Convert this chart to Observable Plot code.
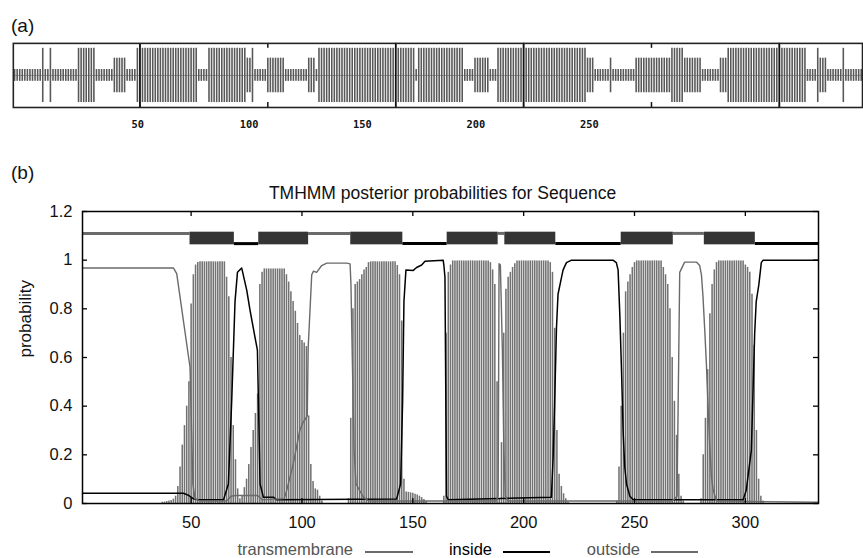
<!DOCTYPE html>
<html><head><meta charset="utf-8">
<script src="https://cdn.jsdelivr.net/npm/d3@7"></script>
<script src="https://cdn.jsdelivr.net/npm/@observablehq/plot@0.6"></script>
<style>
html,body{margin:0;padding:0;background:#fff;}
body{width:863px;height:558px;overflow:hidden;position:relative;font-family:"Liberation Sans",Arial,Helvetica,sans-serif;}
.lbl{position:absolute;font-size:19px;color:#111;line-height:22px;}
#pa{position:absolute;left:0;top:35px;}
#pb{position:absolute;left:0;top:175px;}
.legt{position:absolute;top:543px;font-size:16.5px;line-height:13px;white-space:nowrap;text-align:right;}
.legl{position:absolute;top:551px;height:1.5px;}
</style></head><body>
<div class="lbl" style="left:11px;top:15px">(a)</div>
<div id="pa"></div>
<div class="lbl" style="left:11px;top:162px">(b)</div>
<div id="pb"></div>
<div id="legend"></div>
<script>
// ---------- Panel (a): per-residue bar levels as runs [start, end, level] ----------
const aRuns = [
  [1,11,1],[12,12,3],[13,14,1],[15,15,3],[16,25,1],[26,32,3],[33,39,1],[40,44,2],[45,48,1],
  [49,72,3],[73,76,1],[77,91,3],[92,93,2],[94,94,3],[95,99,1],[100,106,2],[107,115,1],
  [116,118,2],[119,119,1],[120,157,3],[158,158,1],[159,176,3],[177,180,1],[181,186,2],
  [187,189,1],[190,224,3],[225,227,2],[228,233,1],[234,234,2],[235,243,1],[244,257,2],
  [258,262,3],[263,269,2],[270,276,1],[277,279,2],[280,310,3],[311,314,1],[315,315,3],
  [316,318,2],[319,324,1],[325,325,3],[326,332,1]
];
const aTicks = [50,100,150,200,250,300];
const aFullTicks = [50,150,200,300];
const aLabels = ["50","100","150","200","250"];
const aLabelPos = [49.1,92.7,137,181.3,225.7];

// ---------- Panel (b): TMHMM posterior probabilities ----------
const title = "TMHMM posterior probabilities for Sequence";
const xTicks = [50,100,150,200,250,300];
const yTicks = [0,0.2,0.4,0.6,0.8,1,1.2];
const yLabels = ["0","0.2","0.4","0.6","0.8","1","1.2"];

// transmembrane probability, residues 1..332
const tmProb = [
0,0,0,0,0,0,0,0,0,0,0,0,0,0,0,0,0,0,0,0,
0,0,0,0,0,0,0,0,0,0,0,0,0,0,0,0,0.005,0.006,0.008,0.01,
0.012,0.018,0.03,0.07,0.15,0.24,0.32,0.4,0.5,0.82,0.94,0.98,0.99,0.993,0.993,0.993,0.993,0.993,0.993,0.993,
0.993,0.993,0.993,0.993,0.993,0.93,0.85,0.6,0.32,0.18,0.06,0.02,0.03,0.065,0.1,0.16,0.23,0.3,0.37,0.45,
0.9,0.95,0.964,0.964,0.964,0.964,0.964,0.964,0.964,0.964,0.964,0.964,0.94,0.91,0.87,0.83,0.79,0.74,0.69,0.67,
0.66,0.645,0.36,0.16,0.09,0.06,0.055,0.03,0.01,0,0,0,0,0,0,0,0,0,0,0,
0.02,0.35,0.8,0.9,0.91,0.92,0.94,0.96,0.97,0.99,0.993,0.993,0.993,0.993,0.993,0.993,0.993,0.993,0.993,0.993,
0.993,0.993,0.978,0.94,0.75,0.1,0.047,0.046,0.044,0.042,0.038,0.035,0.03,0.024,0.016,0.008,0,0,0,0,
0,0,0,0.03,0.7,0.95,0.98,0.997,0.997,0.997,0.997,0.997,0.997,0.997,0.997,0.997,0.997,0.997,0.997,0.997,
0.997,0.997,0.997,0.997,0.99,0.96,0.9,0.5,0.02,0.25,0.7,0.88,0.93,0.95,0.97,0.985,0.997,0.997,0.997,0.997,
0.997,0.997,0.997,0.997,0.997,0.997,0.997,0.997,0.997,0.997,0.997,0.99,0.95,0.72,0.3,0.12,0.07,0.04,0.02,0.005,
0,0,0,0,0,0,0,0,0,0,0,0,0,0,0,0,0,0,0,0,
0,0.01,0.15,0.4,0.7,0.87,0.91,0.94,0.97,0.99,0.997,0.997,0.997,0.997,0.997,0.997,0.997,0.997,0.997,0.997,
0.997,0.997,0.97,0.94,0.9,0.8,0.6,0.42,0.28,0.12,0.03,0.01,0,0,0,0,0,0,0,0.02,
0.2,0.35,0.55,0.78,0.9,0.96,0.99,0.997,0.997,0.997,0.997,0.997,0.997,0.997,0.997,0.997,0.997,0.997,0.997,0.98,
0.97,0.95,0.86,0.65,0.3,0.1,0.03,0.01,0,0,0,0,0,0,0,0,0,0,0,0,
0,0,0,0,0,0,0,0,0,0,0,0
];

// inside probability (read at key residues)
const insideR = [1,46.5,48.5,51.1,53,64.6,66.8,68.3,69.8,70.9,72.8,75.1,76.6,78.8,79.9,81.1,82.6,87.1,88.6,142.7,
  144.5,145.4,146,146.9,150.2,151.7,154,155.5,163.7,164,164.5,165.2,166,212.5,213.3,214,214.8,215.5,217.1,217.8,
  219.3,221.6,240.3,241.8,242.6,243.4,244.1,244.9,245.6,246.4,247.9,249.4,299,300.4,302.7,304.2,304.9,306.1,307.2,308,333];
const insideP = [0.042,0.042,0.035,0.019,0.015,0.015,0.08,0.42,0.83,0.95,0.968,0.876,0.793,0.684,0.63,0.08,0.026,0.026,0.015,0.019,
  0.08,0.42,0.83,0.96,0.958,0.97,0.98,0.996,1.0,0.98,0.93,0.03,0.015,0.026,0.19,0.42,0.72,0.86,0.93,0.96,
  0.99,1.0,1.0,0.99,0.96,0.77,0.56,0.29,0.15,0.08,0.03,0.015,0.015,0.054,0.218,0.697,0.83,0.9,0.99,1.0,1.0];

// outside probability (read at key residues)
const outsideR = [1,42,43.5,49.5,50.8,51.8,54,66,68,70,80,82,92,93,96,99,100.3,102.4,102.8,104.4,
  105.2,106.6,108.9,111.2,120.2,121.7,122.1,122.7,123.5,124.4,127.7,130,187.5,188.5,188.9,189.5,190.4,191.1,191.7,193,
  267,269.2,270.4,272.6,277.9,279.4,280.2,280.9,281.7,282.4,283.2,283.9,284.7,285.5,287,333];
const outsideP = [0.968,0.968,0.945,0.56,0.08,0.02,0.01,0.01,0.03,0.033,0.033,0.015,0.02,0.05,0.16,0.3,0.33,0.36,0.64,0.94,
  0.955,0.95,0.978,0.988,0.988,0.985,0.9,0.6,0.22,0.08,0.026,0.01,0.01,0.03,0.985,0.98,0.63,0.22,0.03,0.01,
  0.01,0.03,0.95,0.992,0.992,0.978,0.94,0.85,0.71,0.58,0.4,0.245,0.11,0.055,0.01,0.005];

// predicted topology segments
const topoStart = [1,49.5,69.5,80.5,103,122,145.5,165.5,188.5,191.5,214.5,244,267.5,281.5,304.5];
const topoEnd   = [49.5,69.5,80.5,103,122,145.5,165.5,188.5,191.5,214.5,244,267.5,281.5,304.5,333];
const topoType  = ["outside","TMhelix","inside","TMhelix","outside","TMhelix","inside","TMhelix",
                   "outside","TMhelix","inside","TMhelix","outside","TMhelix","inside"];

const legendLabels = ["transmembrane","inside","outside"];

// ---------- build panel (a) ----------
const aHalf = [0, 0.185, 0.54, 0.846];
const aBars = aRuns.flatMap(([s,e,l]) => d3.range(s, e + 1).map(r => ({r, level: l})));

const plotA = Plot.plot({
  width: 875, height: 100,
  marginLeft: 13, marginRight: 1, marginTop: 8, marginBottom: 27,
  x: {domain: [0.5, 332.5], axis: null, label: null},
  y: {domain: [-1, 1], axis: null, label: null},
  style: {background: "transparent", overflow: "visible"},
  marks: [
    Plot.ruleY([0], {stroke: "#8a8a8a", strokeWidth: 0.8}),
    Plot.ruleX(aBars, {x: "r", y1: d => -aHalf[d.level], y2: d => aHalf[d.level], stroke: "#585858", strokeWidth: 1.6}),
    Plot.ruleX(aFullTicks, {x: d => d, stroke: "#111", strokeWidth: 1.6}),
    Plot.ruleX(aTicks, {x: d => d, insetBottom: 60, stroke: "#111", strokeWidth: 1.5}),
    Plot.ruleX(aTicks, {x: d => d, insetTop: 60, stroke: "#111", strokeWidth: 1.5}),
    Plot.frame({stroke: "#222", strokeWidth: 1.6}),
    Plot.text(aLabelPos, {x: d => d, text: (d, i) => aLabels[i], frameAnchor: "bottom", dy: 21,
      fontFamily: "DejaVu Sans Mono", fontWeight: "bold", fontSize: 10.5, fill: "#111"})
  ]
});
document.getElementById("pa").appendChild(plotA);

// ---------- build panel (b) ----------
const tm = tmProb.map((p, i) => ({r: i + 1, p}));
const inside = insideR.map((r, i) => ({r, p: insideP[i]}));
const outside = outsideR.map((r, i) => ({r, p: outsideP[i]}));
const topo = topoStart.map((s, i) => ({s, e: topoEnd[i], t: topoType[i]}));
const topoLine = topo.filter(d => d.t !== "TMhelix");
const topoTM = topo.filter(d => d.t === "TMhelix");

const plotB = Plot.plot({
  width: 863, height: 358,
  marginLeft: 82, marginRight: 45, marginTop: 36, marginBottom: 30,
  x: {domain: [1, 333], axis: null, label: null},
  y: {domain: [0, 1.2], axis: null, label: null},
  style: {fontFamily: "Liberation Sans, Arial, sans-serif", fontSize: "16.5px", background: "transparent", color: "#111"},
  marks: [
    Plot.ruleX(tm.filter(d => d.p > 0), {x: "r", y1: 0, y2: "p", stroke: "#727272", strokeWidth: 1.55}),
    Plot.line(inside, {x: "r", y: "p", stroke: "#000", strokeWidth: 1.5}),
    Plot.line(outside, {x: "r", y: "p", stroke: "#6a6a6a", strokeWidth: 1.4}),
    Plot.ruleY(topoLine, {x1: "s", x2: "e", y: d => d.t === "outside" ? 1.11 : 1.068,
      stroke: d => d.t === "outside" ? "#6a6a6a" : "#000", strokeWidth: 3}),
    Plot.rect(topoTM, {x1: "s", x2: "e", y1: 1.063, y2: 1.115, fill: "#353535"}),
    Plot.frame({stroke: "#000", strokeWidth: 1.5}),
    Plot.ruleX(xTicks, {x: d => d, insetTop: 287, stroke: "#000", strokeWidth: 1.3}),
    Plot.ruleX(xTicks, {x: d => d, insetBottom: 287, stroke: "#000", strokeWidth: 1.3}),
    Plot.ruleY(yTicks, {y: d => d, insetRight: 731, stroke: "#000", strokeWidth: 1.3}),
    Plot.ruleY(yTicks, {y: d => d, insetLeft: 731, stroke: "#000", strokeWidth: 1.3}),
    Plot.axisX(xTicks, {tickSize: 0, tickPadding: 13, label: null, tickFormat: d => String(d)}),
    Plot.axisY(yTicks, {tickSize: 0, tickPadding: 10, label: null, tickFormat: d => yLabels[yTicks.indexOf(d)]}),
    Plot.text([title], {frameAnchor: "top", dy: -25, dx: -8, fontSize: 17.5}),
    Plot.text(["probability"], {frameAnchor: "left", dx: -57, rotate: -90, fontSize: 17})
  ]
});
document.getElementById("pb").appendChild(plotB);

// ---------- legend ----------
const legColors = ["#6a6a6a", "#000", "#6a6a6a"];
const legTextColors = ["#555", "#000", "#555"];
const legTextEnd = [353, 492, 640];
const legLine = [[365, 413], [503, 550], [651, 698]];
const leg = document.getElementById("legend");
legendLabels.forEach((lab, i) => {
  const t = document.createElement("div");
  t.className = "legt";
  t.style.right = (863 - legTextEnd[i]) + "px";
  t.style.color = legTextColors[i];
  t.textContent = lab;
  leg.appendChild(t);
  const l = document.createElement("div");
  l.className = "legl";
  l.style.left = legLine[i][0] + "px";
  l.style.width = (legLine[i][1] - legLine[i][0]) + "px";
  l.style.background = legColors[i];
  leg.appendChild(l);
});
</script>
</body></html>
